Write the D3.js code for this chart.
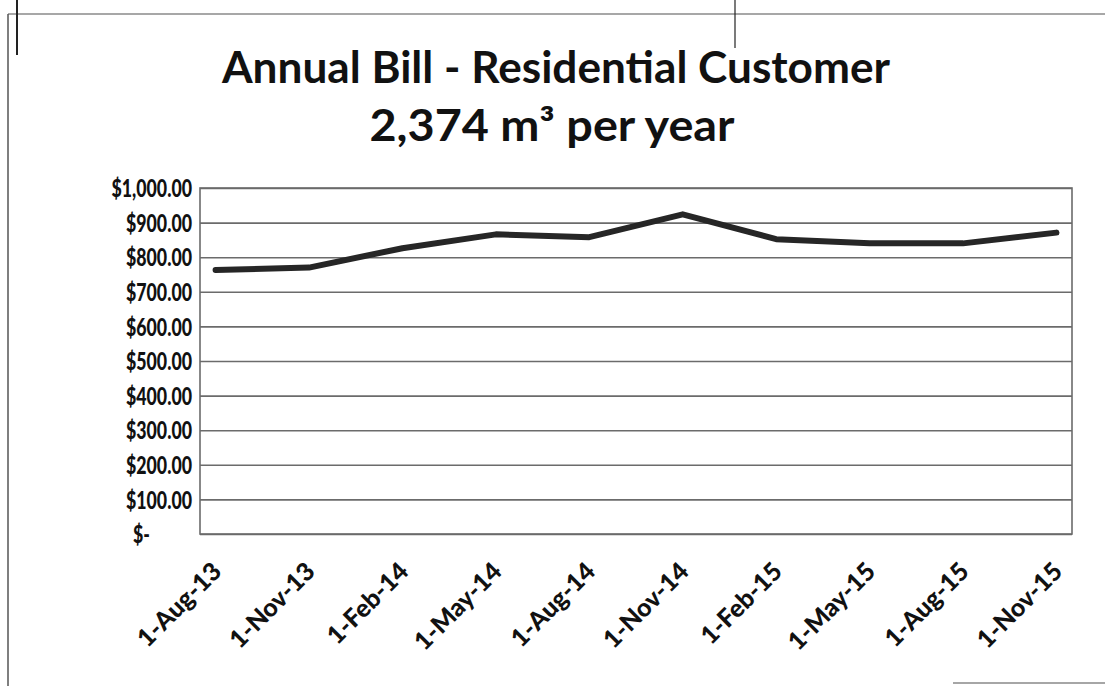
<!DOCTYPE html>
<html>
<head>
<meta charset="utf-8">
<script src="https://cdn.jsdelivr.net/npm/d3@7"></script>
<style>
  html, body { margin: 0; padding: 0; background: #fff; }
  svg { display: block; }
  text { font-family: Lato, "Open Sans", sans-serif; font-weight: 900; fill: #111; }
</style>
</head>
<body>
<svg id="chart" width="1105" height="686"></svg>
<script>
// Quarterly billing dates and the annual bill for a 2,374 m3/year customer
const dates = ["1-Aug-13", "1-Nov-13", "1-Feb-14", "1-May-14", "1-Aug-14",
               "1-Nov-14", "1-Feb-15", "1-May-15", "1-Aug-15", "1-Nov-15"];
const bills = [763, 770, 826, 866, 858, 924, 852, 840, 840, 871];
const yTicks = [0, 100, 200, 300, 400, 500, 600, 700, 800, 900, 1000];

const svg = d3.select("#chart");
const W = 1105, H = 686;
const plot = { left: 200, right: 1072, top: 188, bottom: 534 };

const parse = d3.timeParse("%d-%b-%y");
const parsed = dates.map(parse);
const start = parsed[0];
const monthIdx = d => d3.timeMonth.count(start, d);
const nMonths = monthIdx(parsed[parsed.length - 1]) + 1;

// Date axis with one slot per month, points centred in their slot
const x = d3.scaleLinear().domain([-0.5, nMonths - 0.5]).range([plot.left, plot.right]);
const y = d3.scaleLinear().domain([0, 1000]).range([plot.bottom, plot.top]);

// Page frame
const frame = svg.append("g").attr("fill", "none");
frame.append("line").attr("x1", 8).attr("x2", W).attr("y1", 14).attr("y2", 14)
  .attr("stroke", "#8a8a8a").attr("stroke-width", 1.5);
frame.append("line").attr("x1", 8).attr("x2", 8).attr("y1", 14).attr("y2", H)
  .attr("stroke", "#555").attr("stroke-width", 1.5);
frame.append("line").attr("x1", 17).attr("x2", 17).attr("y1", 0).attr("y2", 55)
  .attr("stroke", "#222").attr("stroke-width", 2);
frame.append("line").attr("x1", 735).attr("x2", 735).attr("y1", 0).attr("y2", 48)
  .attr("stroke", "#222").attr("stroke-width", 1.2);
frame.append("line").attr("x1", 953).attr("x2", W).attr("y1", 683).attr("y2", 683)
  .attr("stroke", "#888").attr("stroke-width", 1.5);

// Title
svg.append("text").attr("x", 556).attr("y", 83).attr("text-anchor", "middle")
  .style("font-size", "43px").style("font-weight", 700)
  .attr("textLength", 668).attr("lengthAdjust", "spacingAndGlyphs")
  .text("Annual Bill - Residential Customer");
svg.append("text").attr("x", 552).attr("y", 141).attr("text-anchor", "middle")
  .style("font-size", "43px").style("font-weight", 700)
  .attr("textLength", 365).attr("lengthAdjust", "spacingAndGlyphs")
  .text("2,374 m³ per year");

// Gridlines and value labels
const yAxis = d3.axisLeft(y).tickValues(yTicks)
  .tickSize(-(plot.right - plot.left))
  .tickPadding(10)
  .tickFormat(d => d === 0 ? "$-" : "$" + d3.format(",.2f")(d));

const labelSqueeze = 0.74;
const gy = svg.append("g").attr("transform", `translate(${plot.left},0)`).call(yAxis);
gy.select(".domain").remove();
gy.selectAll(".tick line").attr("stroke", "#6b6b6b").attr("stroke-width", 1.6);
gy.selectAll(".tick text").style("font-size", "24px").attr("fill", "#111")
  .attr("dy", "0.36em")
  .attr("x", d => (d === 0 ? -50 : -8) / labelSqueeze)
  .attr("transform", `scale(${labelSqueeze},1)`);

// Plot border
svg.append("rect").attr("x", plot.left).attr("y", plot.top)
  .attr("width", plot.right - plot.left).attr("height", plot.bottom - plot.top)
  .attr("fill", "none").attr("stroke", "#6b6b6b").attr("stroke-width", 1.6);

// Date labels, rotated
const xAxis = d3.axisBottom(x).tickValues(parsed.map(monthIdx))
  .tickSize(0).tickPadding(0)
  .tickFormat((d, i) => dates[i]);
const gx = svg.append("g").attr("transform", `translate(0,${plot.bottom})`).call(xAxis);
gx.select(".domain").remove();
gx.selectAll(".tick text")
  .style("font-size", "25px").attr("fill", "#111")
  .attr("text-anchor", "end")
  .attr("dy", null)
  .attr("transform", "translate(7,39) rotate(-45)");

// Bill line
const line = d3.line()
  .x((d, i) => x(monthIdx(parsed[i])))
  .y(d => y(d));
svg.append("path").datum(bills)
  .attr("d", line)
  .attr("fill", "none")
  .attr("stroke", "#262626")
  .attr("stroke-width", 6)
  .attr("stroke-linejoin", "round")
  .attr("stroke-linecap", "round");
</script>
</body>
</html>
